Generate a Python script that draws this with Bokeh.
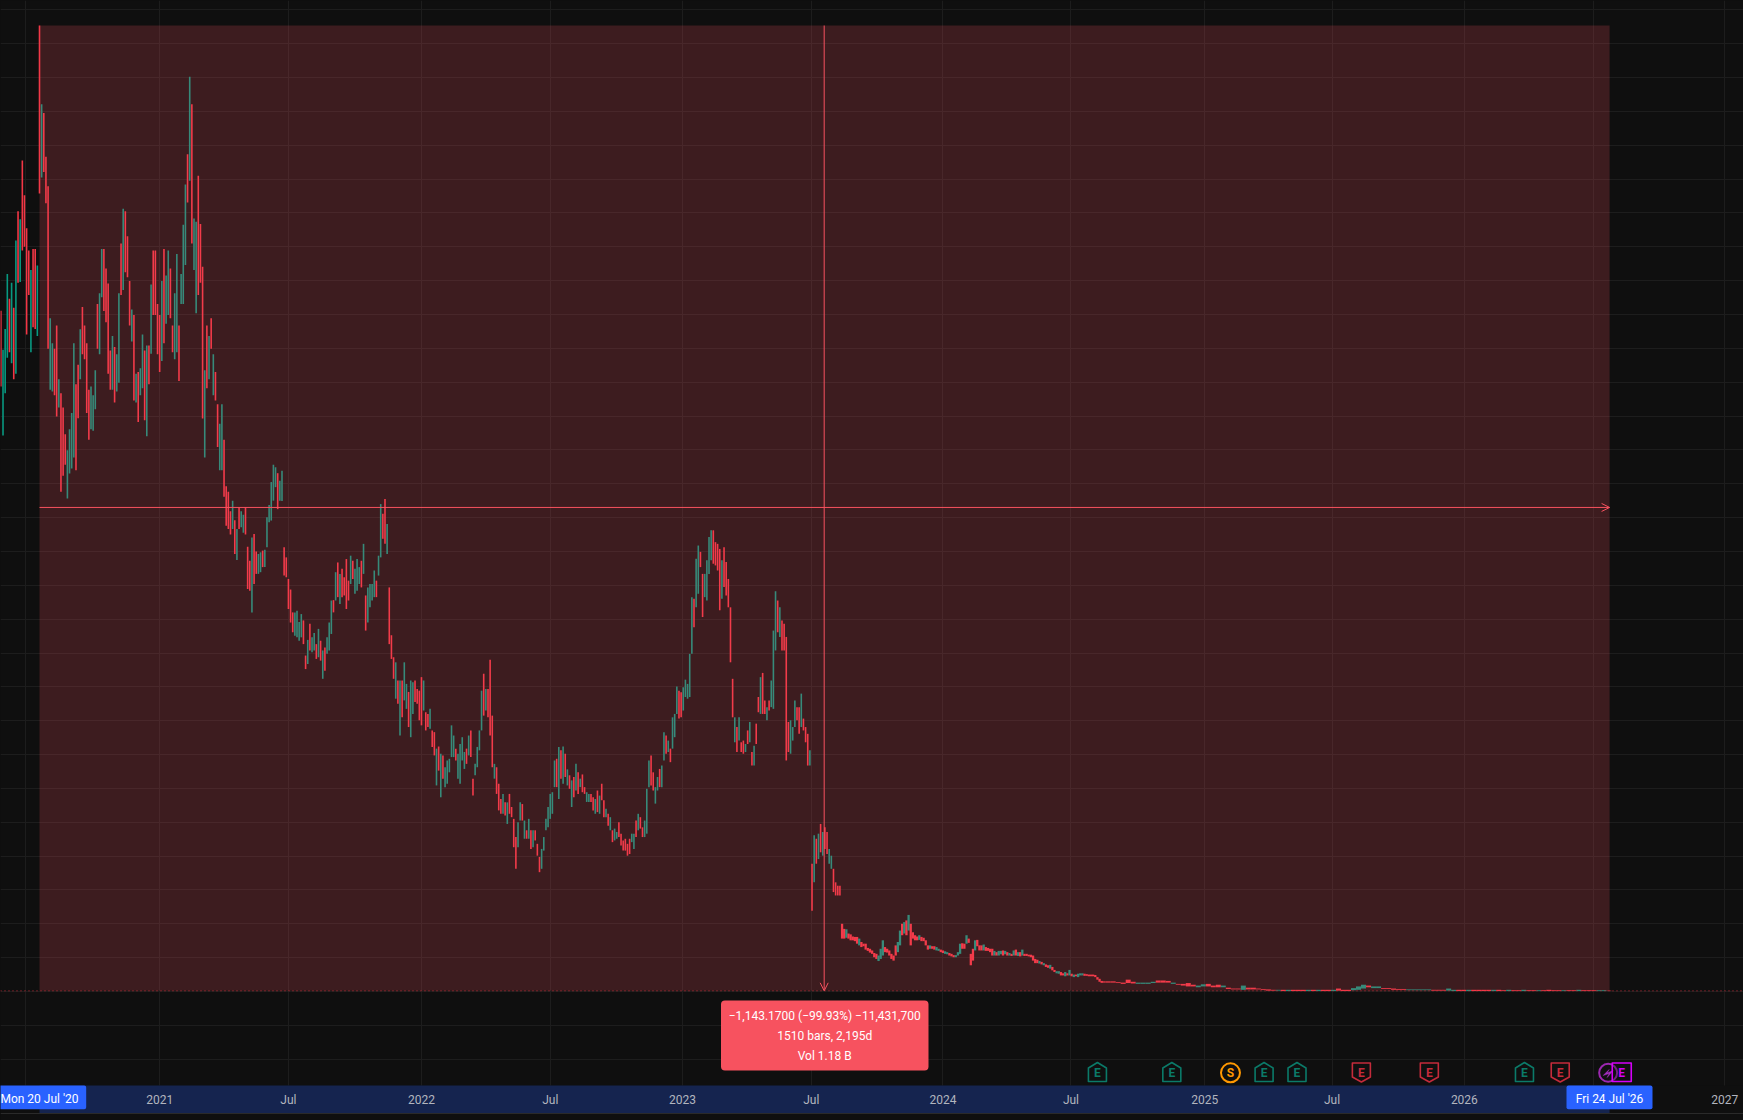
import pandas as pd
from bokeh.plotting import figure
from bokeh.embed import file_html
from bokeh.resources import INLINE
from bokeh.core.properties import value
from bokeh.models import Range1d, FixedTicker, BoxAnnotation, Span, Arrow, OpenHead, ColumnDataSource

# ---- data (daily candles thinned to every third day, then weekly) ----
main_start = "2020-05-27"
main_high = [
1609,1517,1566,1696,1637,1675,1616,1775,1844,1825,
1964,1882,1804,1751,1705,1755,1755,1716,2283,2097,
2076,1973,1903,1591,1532,1519,1574,1447,1414,1380,
1317,1279,1329,1367,1532,1435,1481,1565,1618,1574,
1532,1422,1430,1409,1468,1625,1650,1755,1755,1709,
1673,1515,1549,1523,1506,1650,1768,1850,1844,1785,
1679,1612,1599,1460,1464,1473,1553,1515,1527,1527,
1671,1751,1751,1625,1599,1679,1755,1692,1751,1709,
1574,1650,1743,1574,1696,1812,1907,1979,2162,2097,
1827,1819,1928,1814,1713,1468,1574,1549,1591,1506,
1464,1388,1342,1388,1304,1194,1181,1135,1160,1114,
1093,1144,1135,1127,1144,1051,1018,1073,1081,1040,
1034,1038,1042,1044,1121,1150,1204,1245,1239,1225,
1207,1231,1050,1026,975,950,896,896,900,873,
892,877,794,831,869,837,847,821,857,829,
806,813,837,872,924,925,991,1014,987,999,
979,1022,971,1030,1018,999,1022,1003,1018,1058,
936,955,963,963,995,971,1030,1152,1129,1164,
1105,955,842,790,778,735,735,735,778,727,
708,735,731,735,715,711,743,735,660,656,
668,617,613,574,579,562,558,530,546,550,
629,605,574,562,585,601,566,574,605,617,
503,538,578,617,711,751,715,715,784,652,
538,530,491,455,467,447,447,467,436,408,
365,400,447,443,404,381,408,381,381,381,
349,318,337,365,408,436,467,471,546,550,
578,570,579,562,525,511,499,507,538,518,
503,513,483,471,467,467,459,455,475,463,
491,452,432,420,412,381,385,377,400,373,
357,361,349,361,373,373,404,420,412,388,
404,479,546,558,518,483,507,526,534,613,
605,593,574,648,656,721,711,707,719,737,
727,798,932,928,1023,1054,1039,987,987,1019,
1074,1090,1090,1062,1058,1046,1019,1050,1015,975,
908,739,648,625,648,589,593,585,617,637,
566,581,633,696,743,753,688,672,688,735,
853,946,924,908,877,869,838,637,641,625,
688,672,672,704,645,625,609,570,302,369,
361,373,396,377,388,377,337,321,290,258,
250,250,160,148,147,137,135,130,129,129,
125,117,113,113,103,101,97,91,89,85,
101,121,105,101,97,89,85,109,117,144,
160,164,168,181,160,140,133,130,133,129,
127,121,109,109,107,107,105,101,99,97,
95,93,91,89,86,86,93,113,114,113,
133,125,89,101,121,122,109,109,111,105,
103,101,101,96,93,96,96,97,96,93,
91,89,97,99,93,93,99,89,89,87,
87,85,77,75,72,70,67,64,62,63,
58,51,48,48,46,43,46,43,51,42,
40,40,42,43,43,42,41,40,40,40,
39,34,30,25]
main_low = [
1430,1314,1414,1498,1511,1485,1447,1460,1675,1677,
1751,1760,1553,1646,1511,1570,1566,1549,1886,1924,
1937,1863,1519,1422,1418,1409,1359,1380,1181,1219,
1245,1165,1224,1236,1262,1232,1355,1447,1506,1494,
1367,1304,1329,1325,1376,1519,1506,1641,1608,1582,
1460,1422,1422,1392,1418,1439,1646,1658,1700,1688,
1574,1536,1397,1392,1346,1409,1426,1350,1312,1435,
1507,1599,1599,1506,1464,1490,1532,1578,1599,1591,
1511,1494,1511,1443,1625,1625,1717,1865,1916,1768,
1705,1603,1646,1675,1354,1262,1426,1447,1519,1409,
1397,1287,1232,1232,1169,1101,1093,1080,1093,1034,
1020,1093,1097,1084,1080,951,947,896,963,987,
987,991,1003,1003,1050,1109,1113,1160,1192,1140,
1160,1159,983,979,904,872,849,841,837,829,
837,821,762,774,806,802,806,786,790,782,
739,758,798,806,845,896,924,932,916,932,
936,904,924,963,975,940,947,963,955,987,
853,872,908,924,932,932,983,1026,1070,1058,
1034,821,786,739,692,680,605,648,688,668,
625,601,656,684,680,641,629,664,617,625,
621,578,558,487,522,459,503,483,491,518,
554,554,546,503,491,546,526,538,558,554,
463,511,530,570,617,652,664,648,605,530,
503,467,428,420,420,416,396,420,412,341,
290,341,404,404,361,361,361,337,341,357,
321,282,290,333,381,388,408,420,483,483,
455,503,491,507,487,479,436,459,475,467,
483,471,467,448,448,448,428,420,424,420,
452,412,412,392,381,353,357,361,365,345,
333,333,321,325,353,337,365,381,385,365,
365,373,483,487,475,444,475,483,483,546,
562,566,542,574,601,656,645,648,664,696,
692,696,798,861,908,940,1003,885,932,924,
987,1019,1011,1007,995,901,928,956,936,908,
778,648,589,566,593,566,562,566,585,589,
534,534,585,660,656,656,656,641,664,672,
668,806,849,838,806,806,546,566,562,593,
625,641,609,625,617,589,534,534,191,258,
302,313,329,321,337,325,302,290,235,227,
227,227,125,125,127,125,121,121,119,113,
109,105,107,99,96,92,89,81,77,72,
77,85,93,92,85,77,73,85,93,109,
133,137,133,144,109,125,121,121,122,119,
119,109,99,101,101,99,97,96,93,91,
89,88,85,83,81,81,85,89,101,101,
113,115,62,73,97,107,97,97,97,96,
96,93,85,85,85,85,88,85,88,85,
85,84,85,85,84,83,85,84,84,83,
81,73,67,67,66,64,62,58,56,54,
50,46,43,42,38,38,36,38,38,36,
34,36,34,38,38,37,37,36,36,36,
34,28,23,21]
main_dir = (
"RGGGRGRGRG" "RRRRGRRGRG" "RRRGGRRGRR" "RGGGGRRGRR" "RRGGGRGGRR"
"RRGRGGRGRR" "RGRGRGGRGR" "GRRRRGRGGR" "RGGRGGGRGR" "GGRRRGRGRG"
"RRGGRRRRGR" "GRGGRRRGRR" "GGRGGGGGGR" "GGRRRRRGGG" "GRRGRGGRGR"
"GRGGGRGRGR" "RRRGRGGGRG" "RGGGGRGGRR" "GRRRGRGRGG" "RGGRRRRGRR"
"GRRGRGRGGG" "GGRGGGGRGR" "RGGGGRGRRR" "GRRRGRGRRR" "RGGRGRGRGR"
"RRGGGGGGGR" "GRGRGRGRGR" "GRRGGRRGRG" "RRGRGRGGRR" "RRRRGGRGRR"
"GGGRRGGRGG" "RGRGGGRRGG" "GGGRGGRRGG" "GGRRRRGRRR" "RRGRGRRGRG"
"RGRRGRRGRG" "GGRGRRRRGG" "GRRGRRRGRG" "RGRGRRGGRR" "RRRRGRRRRR"
"GRRRRRRRRG" "GGRRRRRRGG" "RGRGRRRRGR" "RRRGRRGGRR" "GGRRRGGGRR"
"GRRRGRRRGR" "RRRGRGGRGR" "GRGRGRGRRR" "RRRRGRGRRG" "RRGGRRGRGR"
"GRGGGRRRRR" "RRRR")

tail_start = "2024-08-15"
tail_high = [
24,24,24,22,21,28,23,21,21,21,
23,26,26,25,21,18,18,20,16,14,
17,18,14,16,14,9,7,7,14,9,
9,7,6,5,4,4,4,4,4,4,
4,4,4,4,4,4,4,7,4,4,
8,12,16,14,12,12,8,8,7,6,
6,5,5,5,5,5,4,4,4,7,
4,4,4,4,4,4,4,4,4,4,
3,4,3,3,4,3,3,3,3,4,
3,3,3,3,3,4,3,3,3,3,
3,2]
tail_low = [
21,21,21,20,18,20,19,18,18,18,
20,21,21,21,18,16,14,12,12,10,
12,12,10,10,10,6,5,5,4,5,
5,5,4,2,2,2,1,1,1,1,
1,1,1,1,1,1,1,2,1,1,
3,4,7,10,8,8,6,6,4,4,
4,3,3,3,3,3,2,2,2,2,
1,1,1,1,1,1,1,1,1,1,
1,1,1,1,1,1,1,1,1,1,
1,1,1,1,1,1,1,1,1,1,
1,1]
tail_dir = (
"RRRRRRRGGG" "GRRRGRRRRG" "GRRRGRRRGR" "RRRRRGRGRR" "RGRGRRGRRR"
"GGGRGGRRRR" "RGGGGGRRRG" "GRRGRRRRGR" "RGRRGRRGRR" "RRGRRGRRRG" "GR")

tick_dates = ["2020-07-01", "2021-01-04", "2021-07-03", "2022-01-05", "2022-07-04", "2023-01-05",
              "2023-07-04", "2024-01-04", "2024-07-01", "2025-01-04", "2025-07-01", "2026-01-02",
              "2026-07-01", "2027-01-01"]
tick_labels = ["", "2021", "Jul", "2022", "Jul", "2023", "Jul", "2024", "Jul", "2025", "Jul", "2026", "", "2027"]

entry_date, exit_date = "2020-07-20", "2026-07-24"
mid_date = "2023-07-22"
entry_price, last_price, stop_price = 1144.0, 1.6, 2283.0
price_ticks = list(range(-160, 2321, 80))

earn_up = ["2024-08-07", "2024-11-19", "2025-03-28", "2025-05-13", "2026-03-27"]
earn_down = ["2025-08-11", "2025-11-14", "2026-05-16"]
split_date = "2025-02-09"
future_flash_date, future_earn_date = "2026-07-22", "2026-08-10"

# ---- colours ----
BG, GRID, RED, GREEN = "#0f0f0f", "#1d1d1d", "#f23645", "#089981"
LINE = "#f7525f"

# ---- scales: px/day and price/px of the picture ----
DAY = 86400000.0
PX_PER_DAY = 0.7153
PRICE_PER_PX = 2.3634
W, H, ZERO_Y = 1743, 1120, 991.0
def ms(d): return pd.Timestamp(d).value / 1e6
def pxx(x): return ms(entry_date) + (x - 39.0) / PX_PER_DAY * DAY
def pxy(y): return (ZERO_Y - y) * PRICE_PER_PX

p = figure(width=W, height=H, x_axis_type="datetime",
           x_range=Range1d(pxx(0), pxx(W)), y_range=Range1d(pxy(H), pxy(0)),
           output_backend="svg", toolbar_location=None, min_border=0,
           background_fill_color=BG, border_fill_color=BG, outline_line_color=None)

# axes and grid
ticks = [ms(d) for d in tick_dates]
p.yaxis.visible = False
xa = p.xaxis[0]
xa.ticker = FixedTicker(ticks=ticks)
xa.major_label_overrides = {t: l for t, l in zip(ticks, tick_labels)}
xa.fixed_location = pxy(1085)
xa.axis_line_color = None
xa.major_tick_line_color = None
xa.minor_tick_line_color = None
xa.major_label_standoff = 1
xa.major_label_text_font = "Roboto"
xa.major_label_text_font_size = "12px"
xa.major_label_text_color = "#b2b5be"
p.xgrid.ticker = FixedTicker(ticks=ticks)
p.ygrid.ticker = FixedTicker(ticks=price_ticks)
p.xgrid.grid_line_color = GRID
p.ygrid.grid_line_color = GRID

# candles
main_dates = pd.date_range(main_start, periods=len(main_high), freq="3D")
tail_dates = pd.date_range(tail_start, periods=len(tail_high), freq="7D")
widths = [1.6] * 392 + [2.3] * (len(main_high) - 392) + [5.0] * len(tail_high)
dirs = main_dir + tail_dir
src = ColumnDataSource(dict(
    x=list(main_dates) + list(tail_dates),
    hi=main_high + tail_high,
    lo=main_low + tail_low,
    c=[RED if d == "R" else GREEN for d in dirs],
    w=widths))
p.segment("x", "lo", "x", "hi", source=src, line_color="c", line_width="w", line_cap="butt")

# time scale strip
p.quad(left=[pxx(0)], right=[pxx(W)], top=[pxy(1085)], bottom=[pxy(H)], fill_color=BG, line_color=None)
p.quad(left=[ms(entry_date)], right=[ms(exit_date)], top=[pxy(1085)], bottom=[pxy(1113)],
       fill_color="#15244f", line_color=None)
p.add_layout(Span(location=pxy(1113), dimension="width", line_color="#2a2a2a", line_width=1))

# short position shading and measure lines
p.add_layout(BoxAnnotation(left=ms(entry_date), right=ms(exit_date), top=stop_price, bottom=last_price,
                           fill_color=LINE, fill_alpha=0.2, line_color=None))
p.add_layout(Span(location=last_price, dimension="width", line_color=RED, line_alpha=0.8,
                  line_dash="1 3", line_width=1))
p.add_layout(Arrow(x_start=ms(entry_date), y_start=entry_price, x_end=ms(exit_date), y_end=entry_price,
                   line_color=LINE, line_width=1,
                   end=OpenHead(size=8, line_color=LINE, line_width=1)))
p.add_layout(Arrow(x_start=ms(mid_date), y_start=stop_price, x_end=ms(mid_date), y_end=last_price,
                   line_color=LINE, line_width=1,
                   end=OpenHead(size=8, line_color=LINE, line_width=1)))

# measure tooltip
p.add_layout(BoxAnnotation(left=pxx(720.5), right=pxx(928), top=pxy(1000), bottom=pxy(1070),
                           fill_color=LINE, fill_alpha=1, line_color=None, border_radius=4))
p.text(x=[pxx(824.2)] * 3, y=[pxy(1015), pxy(1035), pxy(1055)],
       text=["\u22121,143.1700 (\u221299.93%) \u221211,431,700", "1510 bars, 2,195d", "Vol 1.18 B"],
       text_font=value("Roboto"), text_font_size="12px", text_color="#ffffff",
       text_align="center", text_baseline="middle", level="overlay")

# date labels on the scale
for left, right, d, txt in [(pxx(-2), pxx(85.7), entry_date, "Mon 20 Jul '20"),
                            (pxx(1566), pxx(1652), exit_date, "Fri 24 Jul '26")]:
    p.add_layout(BoxAnnotation(left=left, right=right, top=pxy(1085), bottom=pxy(1108.7),
                               fill_color="#2962ff", fill_alpha=1, line_color=None, border_radius=2))
    p.text(x=[pxx(39) if d == entry_date else pxx(1609)], y=[pxy(1098)], text=[txt],
           text_font=value("Roboto"), text_font_size="12px", text_color="#ffffff",
           text_align="center", text_baseline="middle", level="overlay")

# event markers
def outline(x0, pts):
    return [x0 + dx / PX_PER_DAY * DAY for dx, _ in pts], [pxy(y) for _, y in pts]

up_shape = [(-9, 1081), (-9, 1067.5), (0, 1062), (9, 1067.5), (9, 1081)]
down_shape = [(-9, 1062.5), (-9, 1076.5), (0, 1081.5), (9, 1076.5), (9, 1062.5)]
for dates, shape, col in [(earn_up, up_shape, "#0b7a69"), (earn_down, down_shape, "#c42b3b")]:
    xs, ys = [], []
    for d in dates:
        a, b = outline(ms(d), shape)
        xs.append(a); ys.append(b)
    p.patches(xs, ys, fill_color=BG, line_color=col, line_width=1.6, line_join="round")
    p.text(x=[ms(d) for d in dates], y=[pxy(1072)] * len(dates), text=["E"] * len(dates),
           text_font=value("Roboto"), text_font_size="12px", text_font_style="bold", text_color=col,
           text_align="center", text_baseline="middle")

p.scatter(x=[ms(split_date)], y=[pxy(1072.3)], size=19, marker="circle", fill_color=BG,
          line_color="#ff9800", line_width=2)
p.text(x=[ms(split_date)], y=[pxy(1072.3)], text=["S"], text_font=value("Roboto"), text_font_size="12px",
       text_font_style="bold", text_color="#ff9800", text_align="center", text_baseline="middle")
p.scatter(x=[ms(future_flash_date)], y=[pxy(1072.3)], size=18, marker="circle", fill_color=BG,
          line_color="#9c27b0", line_width=2)
bolt = [(-5, 1075), (1, 1069), (-1, 1072.5), (5, 1070), (-1, 1077), (1, 1073)]
a, b = outline(ms(future_flash_date), bolt)
p.patch(a, b, fill_color="#a52fc0", line_color="#a52fc0", line_width=0.5)
a, b = outline(ms(future_earn_date), [(-9.5, 1062.5), (9.5, 1062.5), (9.5, 1081), (-9.5, 1081)])
p.patch(a, b, fill_color=BG, fill_alpha=0.3, line_color="#d500f9", line_width=1.6, line_join="round")
p.text(x=[ms(future_earn_date)], y=[pxy(1072)], text=["E"], text_font=value("Roboto"), text_font_size="12px",
       text_font_style="bold", text_color="#d500f9", text_align="center", text_baseline="middle")

html = file_html(p, INLINE)
html = html.replace("</head>", "<style>html,body{margin:0;padding:0;background:#0f0f0f;overflow:hidden}</style></head>", 1)
open("out.html", "w").write(html)
